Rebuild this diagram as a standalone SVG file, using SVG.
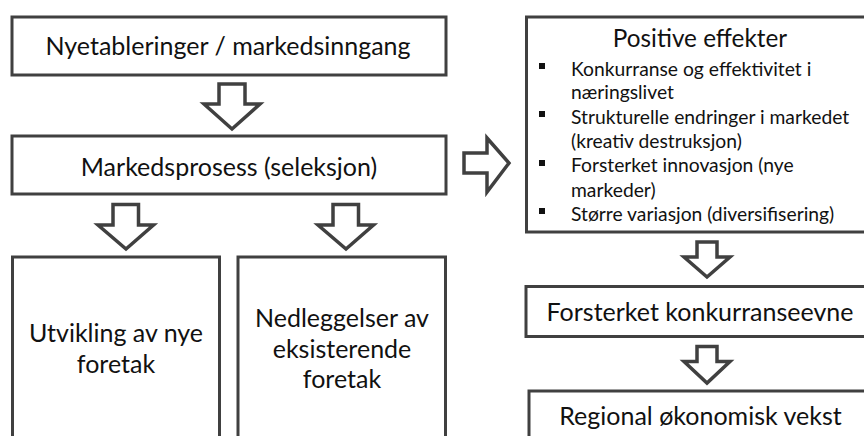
<svg xmlns="http://www.w3.org/2000/svg" width="864" height="436" viewBox="0 0 864 436">
<style>
.box{fill:#fff;stroke:#404040;stroke-width:3}
.arr{fill:#fff;stroke:#404040;stroke-width:3.5;stroke-linejoin:miter;stroke-miterlimit:10}
text{font-family:Lato,"Open Sans",sans-serif;fill:#111}
.t{font-size:25px;text-anchor:middle}
.h{font-size:24.3px;text-anchor:middle}
.b{font-size:19.3px}
.sq{fill:#111}
</style>
<rect width="864" height="436" fill="#fff"/>
<g id="connectors">
<polygon class="arr" points="219,84 245,84 245,104 260,104 232,129 204,104 219,104"/>
<polygon class="arr" points="113,204.5 138.5,204.5 138.5,225 153.5,225 126,249 98,225 113,225"/>
<polygon class="arr" points="333,204.5 358.5,204.5 358.5,225 373.5,225 346,249 318,225 333,225"/>
<polygon class="arr" points="464,153 487,153 487,138 509,163 487,192 487,173 464,173"/>
<polygon class="arr" points="697,242 717,242 717,257 730,257 707,277 684,257 697,257"/>
<polygon class="arr" points="697,346.5 717,346.5 717,361.5 730,361.5 707,383 684,361.5 697,361.5"/>
</g>
<g id="n1"><rect class="box" x="12" y="17" width="434" height="58"/><text class="t" x="228" y="55">Nyetableringer / markedsinngang</text></g>
<g id="n2"><rect class="box" x="12" y="136" width="434" height="58"/><text class="t" x="229" y="176">Markedsprosess (seleksjon)</text></g>
<g id="n3"><rect class="box" x="12.5" y="257" width="207" height="200"/><text class="t" x="116" y="342">Utvikling av nye</text><text class="t" x="116" y="373">foretak</text></g>
<g id="n4"><rect class="box" x="238" y="257" width="207.5" height="200"/><text class="t" x="342" y="327">Nedleggelser av</text><text class="t" x="342" y="358">eksisterende</text><text class="t" x="342" y="388">foretak</text></g>
<g id="n5"><rect class="box" x="526.5" y="17" width="400" height="215"/>
<text class="h" x="700" y="47">Positive effekter</text>
<rect class="sq" x="539" y="63" width="6" height="6"/>
<rect class="sq" x="539" y="111" width="6" height="6"/>
<rect class="sq" x="539" y="160" width="6" height="6"/>
<rect class="sq" x="539" y="208" width="6" height="6"/>
<text class="b" x="571" y="76">Konkurranse og effektivitet i</text>
<text class="b" x="571" y="99">næringslivet</text>
<text class="b" x="571" y="124">Strukturelle endringer i markedet</text>
<text class="b" x="571" y="148">(kreativ destruksjon)</text>
<text class="b" x="571" y="172">Forsterket innovasjon (nye</text>
<text class="b" x="571" y="197">markeder)</text>
<text class="b" x="571" y="221">Større variasjon (diversifisering)</text>
</g>
<g id="n6"><rect class="box" x="526" y="286.5" width="400" height="50"/><text class="t" x="700" y="321">Forsterket konkurranseevne</text></g>
<g id="n7"><rect class="box" x="529" y="391" width="400" height="100"/><text class="t" x="700.5" y="425">Regional økonomisk vekst</text></g>
</svg>
